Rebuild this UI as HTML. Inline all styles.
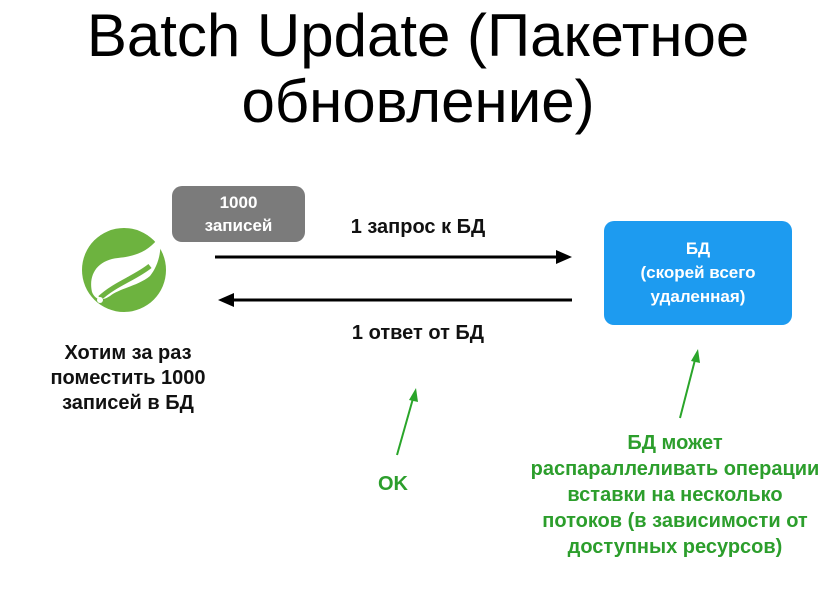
<!DOCTYPE html>
<html><head><meta charset="utf-8"><style>
body{margin:0;width:836px;height:591px;background:#fff;position:relative;overflow:hidden;font-family:"Liberation Sans","DejaVu Sans",sans-serif}
.t{position:absolute;white-space:nowrap;text-align:center}
.title{left:0;width:836px;font-size:60px;color:#000;line-height:64px}
.b{font-weight:bold;font-size:20px;color:#111}
.g{font-weight:bold;font-size:20px;color:#2c9e2c;line-height:26px}
</style></head><body>
<div class="t title" style="top:4px">Batch Update (Пакетное</div>
<div class="t title" style="top:70px">обновление)</div>

<div style="position:absolute;left:172px;top:186px;width:133px;height:56px;background:#7b7b7b;border-radius:10px;color:#fff;font-size:17px;font-weight:bold;text-align:center;line-height:23px;padding-top:5px;box-sizing:border-box">1000<br>записей</div>

<div style="position:absolute;left:604px;top:221px;width:188px;height:104px;background:#1d9bf0;border-radius:10px;color:#fff;font-size:17px;font-weight:bold;text-align:center;line-height:24px;padding-top:16px;box-sizing:border-box">БД<br>(скорей всего<br>удаленная)</div>

<svg width="836" height="591" style="position:absolute;left:0;top:0">
<circle cx="124" cy="270" r="42" fill="#6db33f"/>
<path d="M160 236 C150 250 138 256 118 258 C98 260 88 274 92 292 C96 302 104 300 110 296 C120 288 138 286 150 276 C158 266 162 252 160 236 Z" fill="#fff"/>
<path d="M100 298 C115 284 135 278 150 266" stroke="#6db33f" stroke-width="5" fill="none"/>
<circle cx="100" cy="300" r="3" fill="#fff"/>
<line x1="215" y1="257" x2="558" y2="257" stroke="#000" stroke-width="3"/>
<polygon points="572,257 556,250 556,264" fill="#000"/>
<line x1="232" y1="300" x2="572" y2="300" stroke="#000" stroke-width="3"/>
<polygon points="218,300 234,293 234,307" fill="#000"/>
<line x1="397" y1="455" x2="414" y2="395" stroke="#2aa52a" stroke-width="2"/>
<polygon points="416,388 409,400 418,402" fill="#2aa52a"/>
<line x1="680" y1="418" x2="696" y2="356" stroke="#2aa52a" stroke-width="2"/>
<polygon points="698,349 691,361 700,363" fill="#2aa52a"/>
</svg>

<div class="t b" style="left:318px;width:200px;top:216px">1 запрос к БД</div>
<div class="t b" style="left:318px;width:200px;top:322px">1 ответ от БД</div>
<div class="t b" style="left:28px;width:200px;top:341px;line-height:25px">Хотим за раз<br>поместить 1000<br>записей в БД</div>
<div class="t g" style="left:343px;width:100px;top:471px">OK</div>
<div class="t g" style="left:515px;width:320px;top:430px">БД может<br>распараллеливать операции<br>вставки на несколько<br>потоков (в зависимости от<br>доступных ресурсов)</div>
</body></html>
